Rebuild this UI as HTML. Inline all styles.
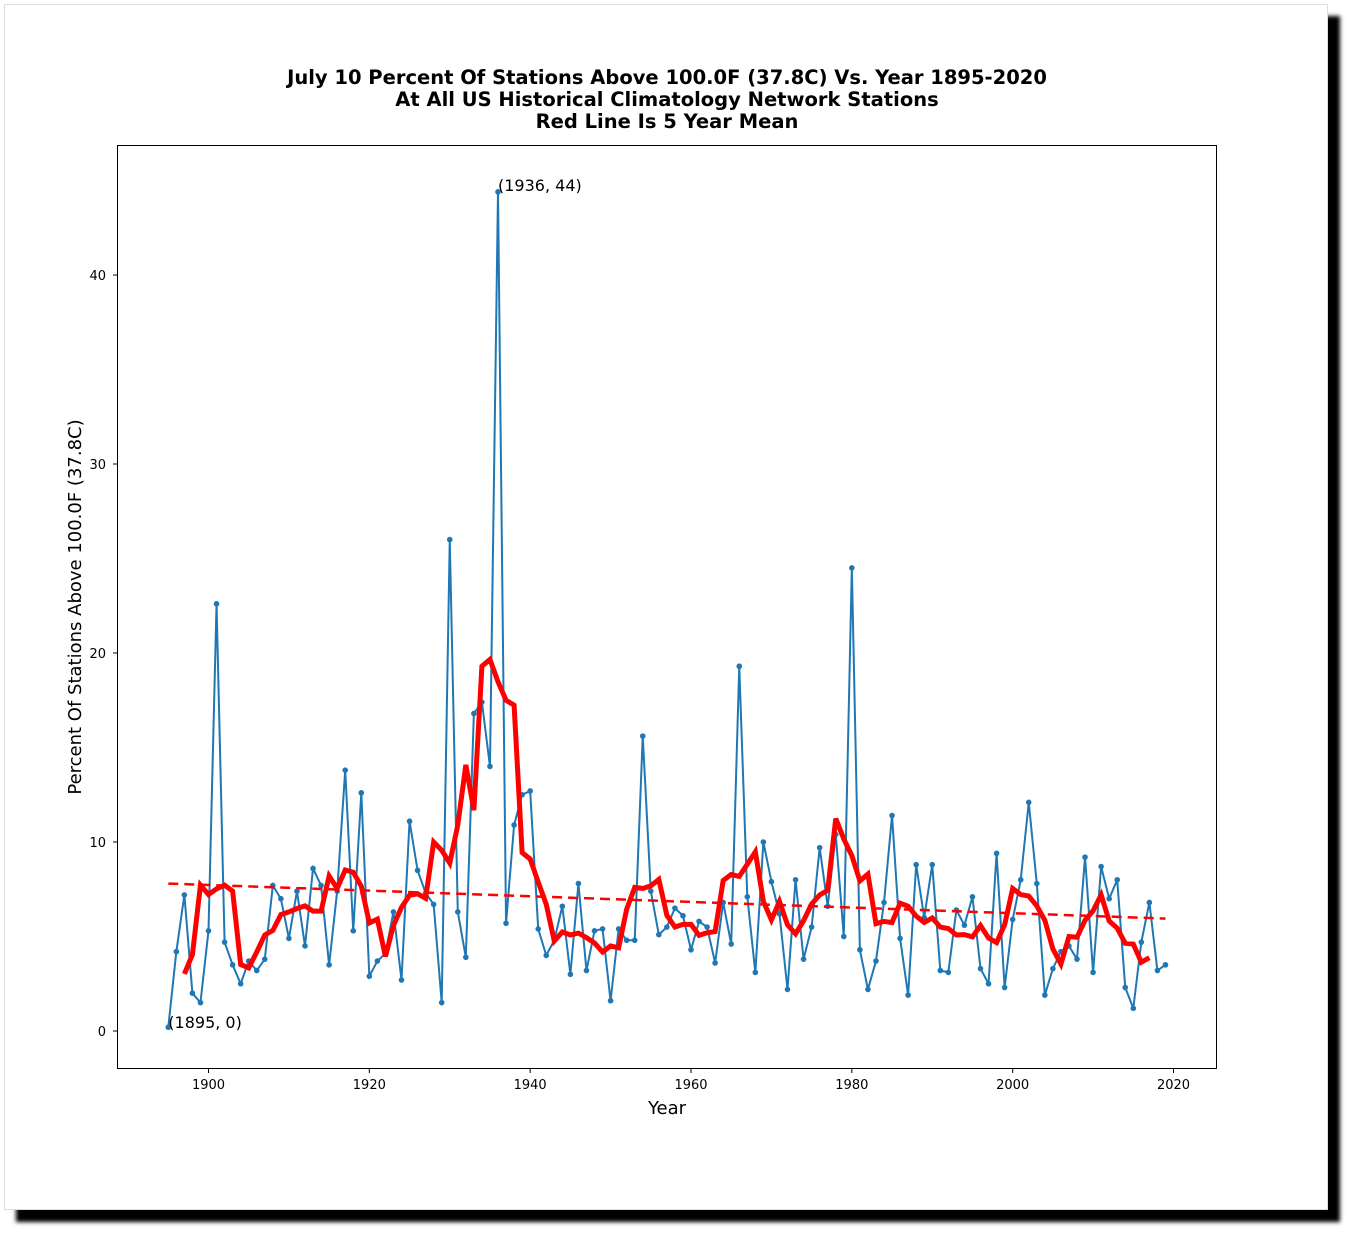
<!DOCTYPE html>
<html><head><meta charset="utf-8"><style>
body{margin:0;background:#fff;width:1355px;height:1237px;overflow:hidden;font-family:"Liberation Sans","DejaVu Sans",sans-serif}
#frame{position:absolute;left:4px;top:4px;width:1322px;height:1204px;background:#fff;border:1px solid #ddd;box-shadow:12px 12px 4px #000}
svg{position:absolute;left:0;top:0}
</style></head><body>
<div id="frame"></div>
<svg id="chart" width="1355" height="1237" font-family="DejaVu Sans, Liberation Sans, sans-serif">
<g font-weight="bold" font-size="19.5" text-anchor="middle">
<text x="667" y="84">July 10 Percent Of Stations Above 100.0F (37.8C) Vs. Year 1895-2020</text>
<text x="667" y="106">At All US Historical Climatology Network Stations</text>
<text x="667" y="128">Red Line Is 5 Year Mean</text>
</g>
<rect x="117.5" y="145.5" width="1099" height="923" fill="none" stroke="#000" stroke-width="1"/>
<g id="xt"></g>
<g id="yt"></g>
<text x="667" y="1114" font-size="18" text-anchor="middle">Year</text>
<text transform="translate(81,607) rotate(-90)" font-size="18" text-anchor="middle">Percent Of Stations Above 100.0F (37.8C)</text>
<g id="marks"></g>
</svg>
<script>
const years=[];for(let y=1895;y<=2019;y++)years.push(y);
const values=[0.2,4.2,7.2,2.0,1.5,5.3,22.6,4.7,3.5,2.5,3.7,3.2,3.8,7.7,7.0,4.9,7.4,4.5,8.6,7.7,3.5,7.4,13.8,5.3,12.6,2.9,3.7,4.1,6.3,2.7,11.1,8.5,7.3,6.7,1.5,26.0,6.3,3.9,16.8,17.4,14.0,44.4,5.7,10.9,12.5,12.7,5.4,4.0,4.8,6.6,3.0,7.8,3.2,5.3,5.4,1.6,5.4,4.8,4.8,15.6,7.4,5.1,5.5,6.5,6.1,4.3,5.8,5.5,3.6,6.8,4.6,19.3,7.1,3.1,10.0,7.9,6.2,2.2,8.0,3.8,5.5,9.7,6.6,10.4,5.0,24.5,4.3,2.2,3.7,6.8,11.4,4.9,1.9,8.8,6.0,8.8,3.2,3.1,6.4,5.6,7.1,3.3,2.5,9.4,2.3,5.9,8.0,12.1,7.8,1.9,3.3,4.2,4.5,3.8,9.2,3.1,8.7,7.0,8.0,2.3,1.2,4.7,6.8,3.2,3.5];
const xTicks=[1900,1920,1940,1960,1980,2000,2020];
const yTicks=[0,10,20,30,40];
const NS='http://www.w3.org/2000/svg';
const X=v=>208.5+(v-1900)*(1173.5-208.5)/120;
const Y=v=>1031-v*(1031-275)/40;
function mk(tag,attrs,parent){const e=document.createElementNS(NS,tag);for(const k in attrs)e.setAttribute(k,attrs[k]);parent.appendChild(e);return e;}
const xt=document.getElementById('xt'),yt=document.getElementById('yt'),marks=document.getElementById('marks');
xTicks.forEach(t=>{const x=X(t);
 const l=mk('line',{x1:x,x2:x,y1:1069,y2:1073,stroke:'#000'},xt);
 
 
 const tx=mk('text',{x:x,y:1089,'font-size':13,'text-anchor':'middle'},xt);tx.textContent=t;
 
 
});
yTicks.forEach(t=>{const y=Y(t);
 const l=mk('line',{x1:113,x2:117,y1:y,y2:y,stroke:'#000'},yt);
 
 
 const tx=mk('text',{x:106,y:y+5,'font-size':13,'text-anchor':'end'},yt);tx.textContent=t;
 
 
});
const pts=years.map((y,i)=>X(y)+','+Y(values[i])).join(' ');
const dl=mk('polyline',{points:pts,fill:'none',stroke:'#1f77b4','stroke-width':2},marks);


years.forEach((y,i)=>{const c=mk('circle',{cx:X(y),cy:Y(values[i]),r:2.8,fill:'#1f77b4'},marks);
 
 
});
const n=years.length;let sx=0,sy=0,sxx=0,sxy=0;
years.forEach((y,i)=>{sx+=y;sy+=values[i];sxx+=y*y;sxy+=y*values[i];});
const b=(n*sxy-sx*sy)/(n*sxx-sx*sx),a=(sy-b*sx)/n;
const y0=years[0],y1=years[n-1];
const tl=mk('line',{x1:X(y0),y1:Y(a+b*y0),x2:X(y1),y2:Y(a+b*y1),stroke:'#f00','stroke-width':2.5,'stroke-dasharray':'10,6'},marks);


const mp=[];for(let i=2;i<n-2;i++){let s=0;for(let k=-2;k<=2;k++)s+=values[i+k];mp.push(X(years[i])+','+Y(s/5));}
const ml=mk('polyline',{points:mp.join(' '),fill:'none',stroke:'#f00','stroke-width':5,'stroke-linejoin':'miter'},marks);


const imax=values.indexOf(Math.max(...values));
const a1=mk('text',{x:X(years[imax]),y:Y(values[imax])-1,'font-size':16},marks);a1.textContent='('+years[imax]+', '+Math.floor(values[imax])+')';


const imin=values.indexOf(Math.min(...values));
const a2=mk('text',{x:X(years[imin]),y:Y(values[imin])+1,'font-size':16},marks);a2.textContent='('+years[imin]+', '+Math.floor(values[imin])+')';


</script>
</body></html>
